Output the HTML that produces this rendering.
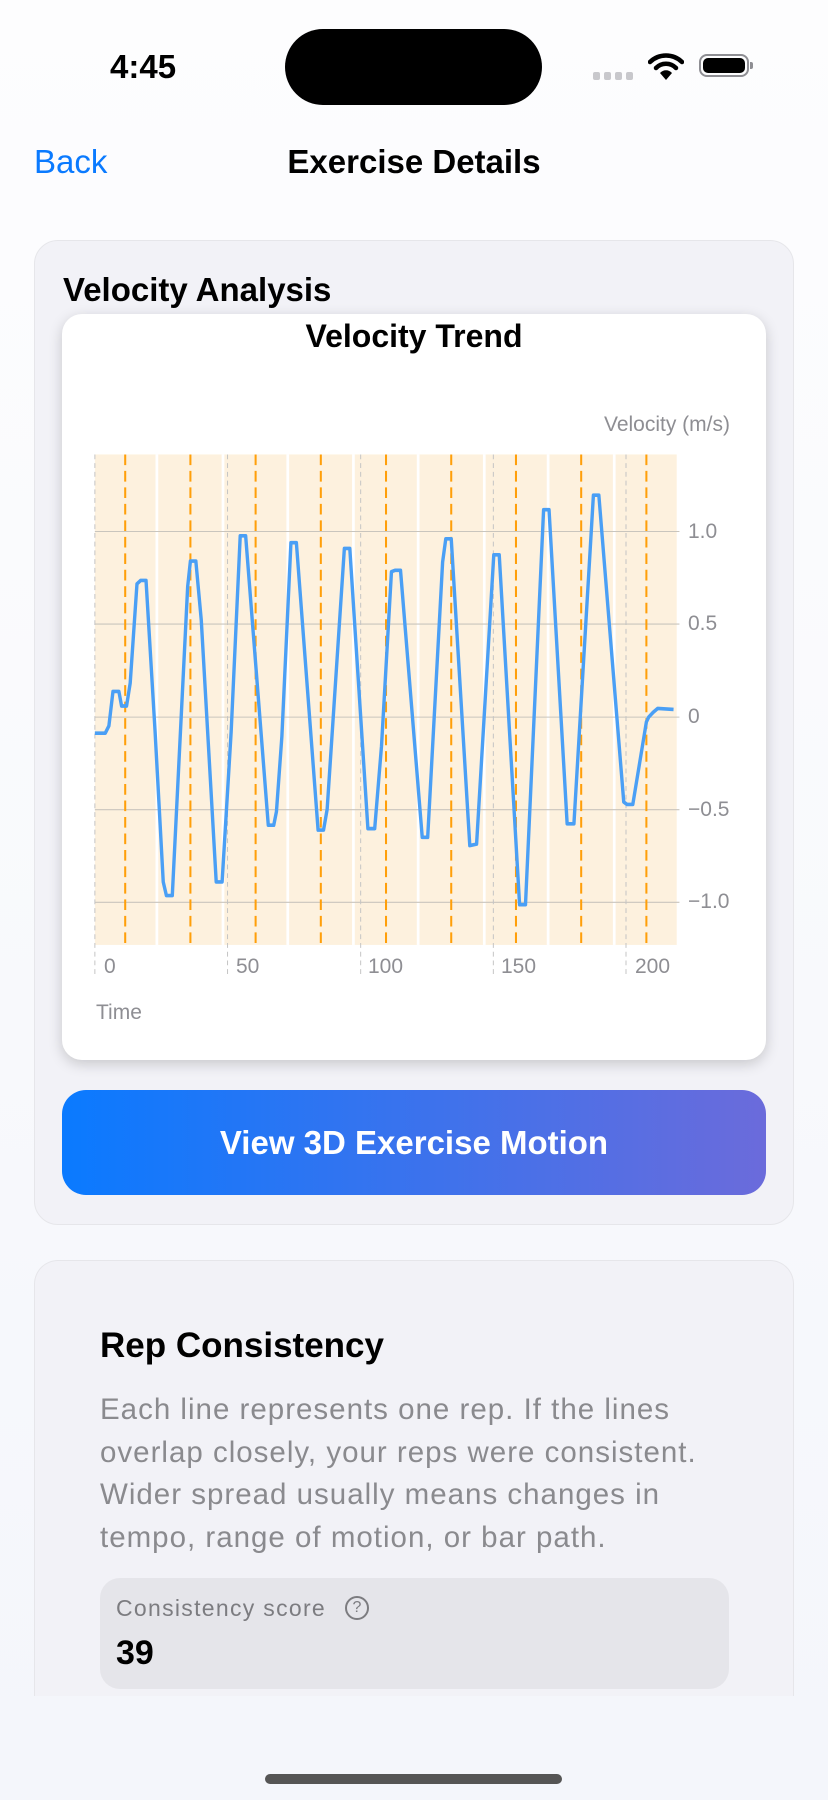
<!DOCTYPE html>
<html><head><meta charset="utf-8">
<style>
*{margin:0;padding:0;box-sizing:border-box}
body{width:828px;height:1800px;overflow:hidden;position:relative;font-family:"Liberation Sans",sans-serif;background:linear-gradient(#fdfdfe,#f4f6fb);}
.a{position:absolute;white-space:nowrap}
.lbl{position:absolute;font-size:21px;color:#8e8e93;line-height:1}
</style></head><body>
<div class="a" style="left:110px;top:48px;font-size:33px;font-weight:bold;color:#000;line-height:38px">4:45</div>
<div class="a" style="left:285px;top:29px;width:257px;height:76px;border-radius:38px;background:#000"></div>
<div class="a" style="left:593px;top:72px;width:7px;height:8px;border-radius:2px;background:#c8c8cc"></div>
<div class="a" style="left:604px;top:72px;width:7px;height:8px;border-radius:2px;background:#c8c8cc"></div>
<div class="a" style="left:615px;top:72px;width:7px;height:8px;border-radius:2px;background:#c8c8cc"></div>
<div class="a" style="left:626px;top:72px;width:7px;height:8px;border-radius:2px;background:#c8c8cc"></div>
<svg class="a" style="left:648px;top:53px" width="36" height="28" viewBox="0 0 36 28">
<path d="M2 9 A23 23 0 0 1 34 9" stroke="#000" stroke-width="4.5" fill="none" stroke-linecap="round"/>
<path d="M8 15 A14 14 0 0 1 28 15" stroke="#000" stroke-width="4.5" fill="none" stroke-linecap="round"/>
<path d="M18 27 L12 20 A8 8 0 0 1 24 20 Z" fill="#000"/>
</svg>
<div class="a" style="left:699px;top:54px;width:50px;height:23px;border:2px solid #8e8e93;border-radius:8px;padding:2px"><div style="width:100%;height:100%;background:#000;border-radius:5px"></div></div>
<div class="a" style="left:750px;top:62px;width:3px;height:7px;background:#8e8e93;border-radius:0 2px 2px 0"></div>

<div class="a" style="left:34px;top:143px;font-size:33px;color:#0a7aff;line-height:38px">Back</div>
<div class="a" style="left:0;width:828px;text-align:center;top:143px;font-size:33px;font-weight:bold;color:#000;line-height:38px">Exercise Details</div>

<div class="a" style="left:34px;top:240px;width:760px;height:985px;background:#f2f2f7;border:1.5px solid #e6e6ea;border-radius:24px"></div>
<div class="a" style="left:63px;top:270px;font-size:33px;font-weight:bold;color:#000;line-height:40px">Velocity Analysis</div>

<div class="a" style="left:62px;top:314px;width:704px;height:746px;background:#fff;border-radius:20px;box-shadow:0 4px 14px rgba(0,0,0,0.18)"></div>
<div class="a" style="left:0;width:828px;text-align:center;top:316px;font-size:32px;font-weight:bold;color:#000;line-height:40px">Velocity Trend</div>

<svg class="a" style="left:60px;top:310px" width="710" height="760" viewBox="0 0 1568 1568" preserveAspectRatio="none">
<rect x="77" y="298" width="1285" height="1012" fill="#fdf1de"/>
<g fill="#fff">
<rect x="211" y="298" width="6" height="1012"/><rect x="357" y="298" width="6" height="1012"/>
<rect x="500" y="298" width="6" height="1012"/><rect x="645" y="298" width="6" height="1012"/>
<rect x="788" y="298" width="6" height="1012"/><rect x="934" y="298" width="6" height="1012"/>
<rect x="1075" y="298" width="6" height="1012"/><rect x="1221" y="298" width="6" height="1012"/>
</g>
<g stroke="#c9c5bd" stroke-width="2.2">
<line x1="77" y1="457" x2="1368" y2="457"/><line x1="77" y1="648" x2="1368" y2="648"/>
<line x1="77" y1="840" x2="1368" y2="840"/><line x1="77" y1="1031" x2="1368" y2="1031"/>
<line x1="77" y1="1222" x2="1368" y2="1222"/>
</g>
<g stroke="#c4c4c4" stroke-width="2.2" stroke-dasharray="10 8">
<line x1="77" y1="298" x2="77" y2="1378"/><line x1="370" y1="298" x2="370" y2="1378"/>
<line x1="664" y1="298" x2="664" y2="1378"/><line x1="957" y1="298" x2="957" y2="1378"/>
<line x1="1250" y1="298" x2="1250" y2="1378"/>
</g>
<g stroke="#ff9f0a" stroke-width="4.5" stroke-dasharray="22 12">
<line x1="144" y1="298" x2="144" y2="1310"/><line x1="288" y1="298" x2="288" y2="1310"/>
<line x1="432" y1="298" x2="432" y2="1310"/><line x1="576" y1="298" x2="576" y2="1310"/>
<line x1="720" y1="298" x2="720" y2="1310"/><line x1="864" y1="298" x2="864" y2="1310"/>
<line x1="1007" y1="298" x2="1007" y2="1310"/><line x1="1151" y1="298" x2="1151" y2="1310"/>
<line x1="1295" y1="298" x2="1295" y2="1310"/>
</g>
<polyline fill="none" stroke="#4a9ff5" stroke-width="7.5" stroke-linejoin="round" points="77,873 100,873 108,858 117,787 130,787 136,817 147,817 155,770 170,565 178,558 190,558 210,870 228,1180 235,1208 248,1208 282,570 288,518 300,518 312,640 345,1180 358,1180 378,870 398,466 410,466 460,1063 472,1063 478,1035 490,880 510,480 522,480 570,1073 582,1073 590,1030 628,492 640,492 680,1070 695,1070 710,900 732,540 740,537 752,537 800,1088 812,1088 845,520 852,472 864,472 905,1105 920,1102 958,505 970,505 1015,1227 1028,1227 1068,412 1080,412 1120,1060 1135,1060 1178,382 1190,382 1245,1015 1252,1020 1265,1020 1295,850 1300,840 1310,830 1320,822 1355,824"/>
</svg>
<div class="lbl" style="right:98px;top:414px;font-size:21px">Velocity (m/s)</div>
<div class="lbl" style="left:688px;top:521px">1.0</div>
<div class="lbl" style="left:688px;top:613px">0.5</div>
<div class="lbl" style="left:688px;top:706px">0</div>
<div class="lbl" style="left:688px;top:799px">−0.5</div>
<div class="lbl" style="left:688px;top:891px">−1.0</div>
<div class="lbl" style="left:104px;top:956px">0</div>
<div class="lbl" style="left:236px;top:956px">50</div>
<div class="lbl" style="left:368px;top:956px">100</div>
<div class="lbl" style="left:501px;top:956px">150</div>
<div class="lbl" style="left:635px;top:956px">200</div>
<div class="lbl" style="left:96px;top:1002px">Time</div>

<div class="a" style="left:62px;top:1090px;width:704px;height:105px;border-radius:24px;background:linear-gradient(90deg,#0a7aff,#6b6bdb);color:#fff;font-size:33px;font-weight:bold;text-align:center;line-height:105px">View 3D Exercise Motion</div>

<div class="a" style="left:34px;top:1260px;width:760px;height:436px;background:#f2f2f7;border:1.5px solid #e6e6ea;border-bottom:none;border-radius:24px 24px 0 0"></div>
<div class="a" style="left:100px;top:1325px;font-size:35px;font-weight:bold;color:#000;line-height:42px">Rep Consistency</div>
<div class="a" style="left:100px;top:1389px;font-size:29.5px;color:#8a8a8e;line-height:42.7px;letter-spacing:1px">Each line represents one rep. If the lines<br>overlap closely, your reps were consistent.<br>Wider spread usually means changes in<br>tempo, range of motion, or bar path.</div>
<div class="a" style="left:100px;top:1578px;width:629px;height:111px;background:#e5e5ea;border-radius:20px"></div>
<div class="a" style="left:116px;top:1594px;font-size:23px;color:#7c7c80;line-height:28px;letter-spacing:1.3px">Consistency score</div>
<div class="a" style="left:345px;top:1596px;width:24px;height:24px;border:2px solid #7c7c80;border-radius:50%;font-size:16px;color:#7c7c80;text-align:center;line-height:20px">?</div>
<div class="a" style="left:116px;top:1633px;font-size:34px;font-weight:bold;color:#000;line-height:40px">39</div>

<div class="a" style="left:265px;top:1774px;width:297px;height:10px;border-radius:5px;background:#555"></div>
</body></html>
